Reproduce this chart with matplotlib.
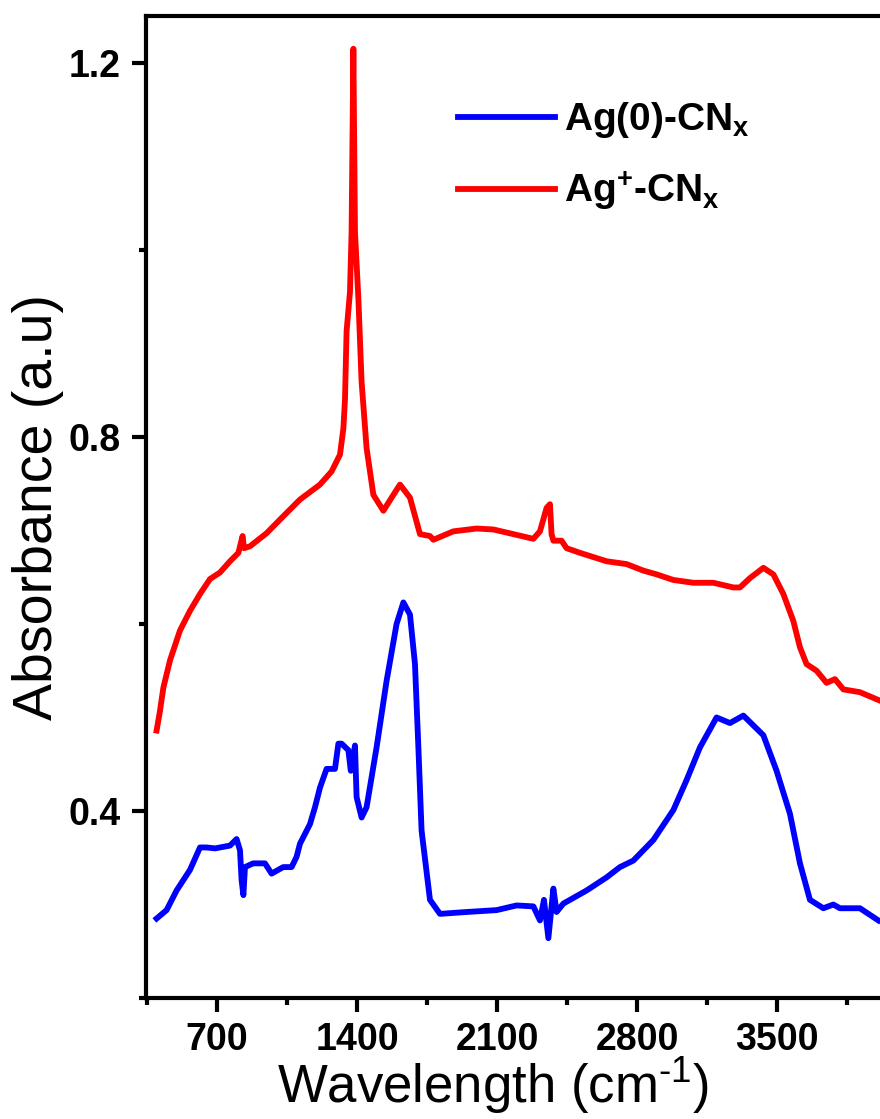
import matplotlib
matplotlib.use('Agg')
import matplotlib.pyplot as plt
from matplotlib.ticker import MultipleLocator

plt.rcParams['font.family'] = ['Liberation Sans', 'DejaVu Sans']
plt.rcParams['mathtext.fontset'] = 'custom'
plt.rcParams['mathtext.rm'] = 'Liberation Sans'
plt.rcParams['mathtext.bf'] = 'Liberation Sans:bold'

# Ag+-CNx (red)
wn_red = [398, 415, 432, 465, 515, 565, 615, 665, 715, 765, 807, 828, 835, 865, 948, 1031,
          1115, 1215, 1273, 1315, 1332, 1340, 1348, 1365, 1373, 1382, 1390, 1407, 1423, 1448,
          1482, 1532, 1582, 1615, 1665, 1715, 1765, 1782, 1882, 1998, 2082, 2182, 2282, 2315,
          2348, 2365, 2373, 2382, 2423, 2448, 2515, 2648, 2748, 2832, 2898, 2982, 3082, 3182,
          3282, 3315, 3365, 3432, 3482, 3532, 3582, 3615, 3648, 3698, 3748, 3790, 3832, 3915, 4015]
abs_red = [0.486, 0.507, 0.532, 0.561, 0.593, 0.614, 0.632, 0.648, 0.655, 0.667, 0.676, 0.694, 0.681, 0.683, 0.697, 0.715,
           0.733, 0.749, 0.763, 0.781, 0.809, 0.840, 0.913, 0.955, 1.019, 1.215, 1.019, 0.948, 0.859, 0.788,
           0.738, 0.721, 0.738, 0.749, 0.735, 0.696, 0.694, 0.690, 0.699, 0.702, 0.701, 0.696, 0.691, 0.699,
           0.724, 0.728, 0.696, 0.689, 0.689, 0.681, 0.676, 0.667, 0.664, 0.657, 0.653, 0.647, 0.644, 0.644,
           0.639, 0.639, 0.649, 0.660, 0.653, 0.632, 0.603, 0.575, 0.557, 0.550, 0.537, 0.541, 0.530, 0.527, 0.518]

# Ag(0)-CNx (blue)
wn_blue = [398, 448, 498, 565, 615, 648, 690, 765, 798, 815, 823, 832, 840, 881, 940, 973, 1031, 1073,
           1098, 1115, 1165, 1190, 1215, 1248, 1290, 1307, 1323, 1357, 1369, 1390, 1398, 1423, 1448,
           1498, 1548, 1598, 1632, 1665, 1690, 1707, 1723, 1765, 1815, 1948, 2098, 2198, 2282, 2315,
           2335, 2357, 2382, 2398, 2432, 2548, 2648, 2715, 2782, 2882, 2982, 3048, 3115, 3198, 3265,
           3332, 3432, 3498, 3565, 3615, 3665, 3732, 3782, 3815, 3915, 4007]
abs_blue = [0.285, 0.294, 0.315, 0.337, 0.361, 0.361, 0.360, 0.363, 0.370, 0.358, 0.326, 0.310, 0.340, 0.344, 0.344, 0.333, 0.340, 0.340,
            0.351, 0.365, 0.386, 0.404, 0.425, 0.445, 0.445, 0.472, 0.472, 0.465, 0.443, 0.470, 0.415, 0.393, 0.404,
            0.468, 0.539, 0.600, 0.623, 0.610, 0.557, 0.468, 0.379, 0.305, 0.290, 0.292, 0.294, 0.299, 0.298, 0.283,
            0.305, 0.264, 0.317, 0.292, 0.301, 0.315, 0.329, 0.340, 0.347, 0.369, 0.401, 0.433, 0.468, 0.500, 0.494,
            0.502, 0.481, 0.443, 0.397, 0.344, 0.305, 0.296, 0.300, 0.296, 0.296, 0.283]

fig = plt.figure(figsize=(8.8, 11.19), dpi=100)
ax = fig.add_axes([0.1659, 0.1081, 0.842, 0.8776])

ax.plot(wn_blue, abs_blue, color='#0000ff', lw=4.2, label='Ag(0)-CN$_\\mathbf{x}$')
ax.plot(wn_red, abs_red, color='#ff0000', lw=4.2, label='Ag$^\\mathbf{+}$-CN$_\\mathbf{x}$')

ax.set_xlim(345, 4050)
ax.set_ylim(0.2, 1.25)
ax.xaxis.set_major_locator(MultipleLocator(700))
ax.xaxis.set_minor_locator(MultipleLocator(350))
ax.yaxis.set_major_locator(MultipleLocator(0.4))
ax.yaxis.set_minor_locator(MultipleLocator(0.2))

for s in ax.spines.values():
    s.set_linewidth(3)
ax.tick_params(which='major', length=10, width=3, direction='out', labelsize=27)
ax.tick_params(which='minor', length=5, width=3, direction='out')
ax.tick_params(axis='x', pad=7)
ax.tick_params(axis='y', pad=8)
for lbl in ax.get_xticklabels() + ax.get_yticklabels():
    lbl.set_fontweight('bold')

ax.set_xlabel('Wavelength (cm$^{\\text{-}1}$)', fontsize=38)
ax.xaxis.set_label_coords(0.468, -0.058)
ax.set_ylabel('Absorbance (a.u)', fontsize=40)
ax.yaxis.set_label_coords(-0.11, 0.5)

ax.legend(loc='upper left', bbox_to_anchor=(0.4, 0.93), frameon=False,
          prop={'size': 28, 'weight': 'bold'}, handlelength=2.5, handletextpad=0.22,
          labelspacing=0.75, borderaxespad=0)

fig.savefig('out.png', dpi=100)
